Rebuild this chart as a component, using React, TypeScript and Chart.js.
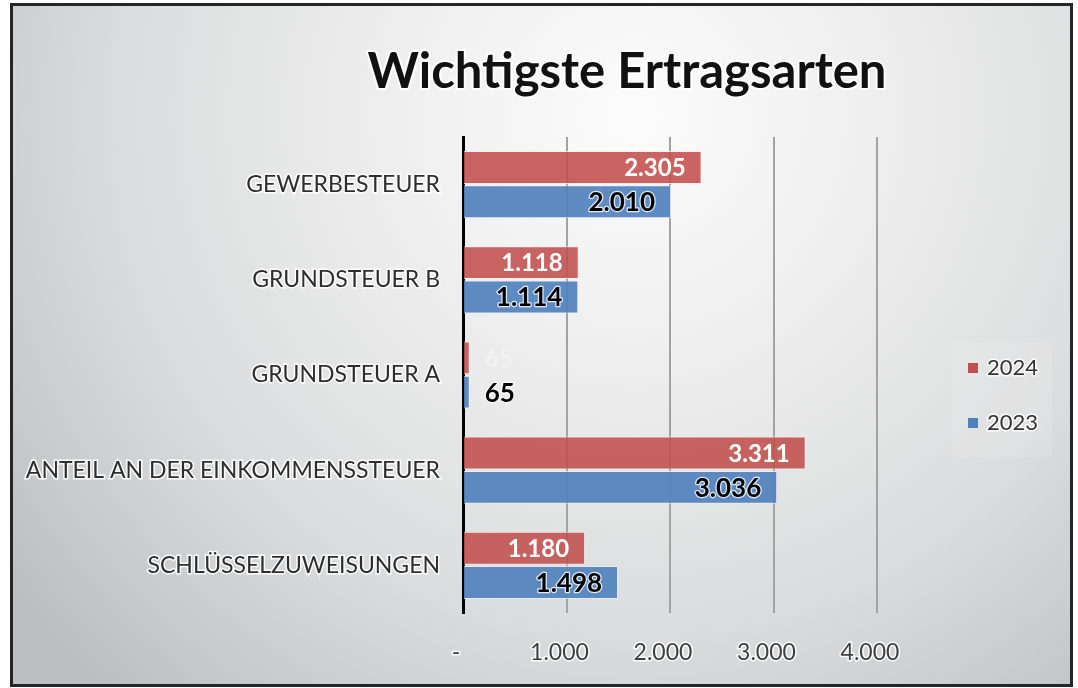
import React, { useEffect, useRef } from "react";
import { Chart, registerables } from "chart.js";

Chart.register(...registerables);

const chartTitle = "Wichtigste Ertragsarten";
const categories = [
  "GEWERBESTEUER",
  "GRUNDSTEUER B",
  "GRUNDSTEUER A",
  "ANTEIL AN DER EINKOMMENSSTEUER",
  "SCHLÜSSELZUWEISUNGEN",
];
const seriesLabels = ["2024", "2023"];
const values2024 = [2305, 1118, 65, 3311, 1180];
const values2023 = [2010, 1114, 65, 3036, 1498];
const xMin = 0;
const xMax = 4000;
const xStep = 1000;

const FONT = "Lato, 'Open Sans', sans-serif";

function fmt(v: number): string {
  if (v === 0) return "-";
  return Math.round(v)
    .toString()
    .replace(/\B(?=(\d{3})+(?!\d))/g, ".");
}

const backgroundPlugin = {
  id: "bgGradient",
  beforeDraw(chart: any) {
    const { ctx, width, height } = chart;
    ctx.save();
    const g = ctx.createRadialGradient(620, 110, 20, 620, 110, 780);
    g.addColorStop(0, "#fbfbfb");
    g.addColorStop(0.3, "#eeeeee");
    g.addColorStop(0.65, "#dbdcdd");
    g.addColorStop(1, "#bcbfc2");
    ctx.fillStyle = g;
    ctx.fillRect(0, 0, width, height);
    ctx.restore();
  },
};

const titlePlugin = {
  id: "customTitle",
  afterDraw(chart: any) {
    const { ctx } = chart;
    ctx.save();
    ctx.font = `bold 49px ${FONT}`;
    ctx.textAlign = "center";
    ctx.textBaseline = "middle";
    ctx.lineJoin = "round";
    ctx.strokeStyle = "rgba(255,255,255,0.9)";
    ctx.lineWidth = 4;
    ctx.strokeText(chartTitle, 614, 66);
    ctx.fillStyle = "#111111";
    ctx.fillText(chartTitle, 614, 66);
    ctx.restore();
  },
};

const legendPlugin = {
  id: "customLegend",
  afterDraw(chart: any) {
    const { ctx } = chart;
    ctx.save();
    ctx.fillStyle = "rgba(255,255,255,0.12)";
    ctx.fillRect(939, 336, 100, 115);
    const ys = [362, 417];
    chart.data.datasets.forEach((ds: any, i: number) => {
      const y = ys[i];
      ctx.fillStyle = ds.legendColor;
      ctx.fillRect(955, y - 5, 10, 10);
      ctx.font = `22px ${FONT}`;
      ctx.textAlign = "left";
      ctx.textBaseline = "middle";
      ctx.lineJoin = "round";
      ctx.strokeStyle = "rgba(255,255,255,0.9)";
      ctx.lineWidth = 3;
      ctx.strokeText(ds.label, 974, y);
      ctx.fillStyle = "#333333";
      ctx.fillText(ds.label, 974, y);
    });
    ctx.restore();
  },
};

const dataLabelPlugin = {
  id: "barLabels",
  afterDatasetsDraw(chart: any) {
    const { ctx } = chart;
    ctx.save();
    ctx.textBaseline = "middle";
    ctx.lineJoin = "round";
    chart.data.datasets.forEach((ds: any, di: number) => {
      const meta = chart.getDatasetMeta(di);
      ctx.font = di === 0 ? `bold 24px ${FONT}` : `bold 26px ${FONT}`;
      meta.data.forEach((bar: any, i: number) => {
        const v = ds.data[i];
        const text = fmt(v);
        const w = ctx.measureText(text).width;
        const barLen = bar.x - bar.base;
        const inside = barLen > w + 30;
        let x: number;
        if (inside) {
          ctx.textAlign = "right";
          x = bar.x - 16;
        } else {
          ctx.textAlign = "left";
          x = bar.x + 15;
        }
        if (di === 0) {
          ctx.fillStyle = inside ? "#ffffff" : "#f2f2f2";
          ctx.fillText(text, x, bar.y + 1);
        } else {
          ctx.strokeStyle = "rgba(255,255,255,0.8)";
          ctx.lineWidth = 2.5;
          ctx.strokeText(text, x, bar.y + 1);
          ctx.fillStyle = "#000000";
          ctx.fillText(text, x, bar.y + 1);
        }
      });
    });
    ctx.restore();
  },
};

export default function App() {
  const canvasRef = useRef<HTMLCanvasElement | null>(null);

  useEffect(() => {
    if (!canvasRef.current) return;
    const chart = new Chart(canvasRef.current, {
      type: "bar",
      data: {
        labels: categories,
        datasets: [
          {
            label: seriesLabels[0],
            data: values2024,
            backgroundColor: "rgba(192,80,77,0.88)",
            borderColor: "rgba(255,235,235,0.8)",
            borderWidth: 1,
            legendColor: "#c0504d",
            barPercentage: 0.96,
            categoryPercentage: 0.72,
          } as any,
          {
            label: seriesLabels[1],
            data: values2023,
            backgroundColor: "rgba(79,129,189,0.92)",
            borderColor: "rgba(235,240,255,0.8)",
            borderWidth: 1,
            legendColor: "#4f81bd",
            barPercentage: 0.96,
            categoryPercentage: 0.72,
          } as any,
        ],
      },
      options: {
        indexAxis: "y",
        responsive: false,
        animation: false,
        layout: {
          padding: { top: 131, right: 193, bottom: 21, left: 0 },
        },
        plugins: {
          legend: { display: false },
          title: { display: false },
          tooltip: { enabled: false },
        },
        scales: {
          x: {
            min: xMin,
            max: xMax,
            ticks: {
              stepSize: xStep,
              callback: (v: any) => fmt(Number(v)),
              font: { family: FONT, size: 23 },
              color: "#404040",
              padding: 26,
              labelOffset: -7,
              maxRotation: 0,
              textStrokeColor: "rgba(255,255,255,0.9)",
              textStrokeWidth: 3,
            } as any,
            grid: {
              color: (c: any) =>
                c.tick && c.tick.value === 0 ? "rgba(0,0,0,0)" : "#a3a3a3",
              lineWidth: 2,
              drawTicks: false,
            },
            border: { display: false },
            afterFit: (scale: any) => {
              scale.height = 50;
            },
          },
          y: {
            ticks: {
              font: { family: FONT, size: 23 },
              color: "#2e2e2e",
              padding: 23,
              textStrokeColor: "rgba(255,255,255,0.9)",
              textStrokeWidth: 3,
            } as any,
            grid: { display: false, drawTicks: false },
            border: { display: true, color: "#000000", width: 3 },
            afterFit: (scale: any) => {
              scale.width = 450;
            },
          },
        },
      },
      plugins: [backgroundPlugin, dataLabelPlugin, titlePlugin, legendPlugin],
    });
    return () => chart.destroy();
  }, []);

  return (
    <div
      style={{
        position: "absolute",
        left: 10,
        top: 3,
        width: 1063,
        height: 684,
        boxSizing: "border-box",
        border: "3px solid #262626",
        background: "#d0d0d0",
      }}
    >
      <canvas ref={canvasRef} width={1057} height={678} style={{ display: "block" }} />
    </div>
  );
}
